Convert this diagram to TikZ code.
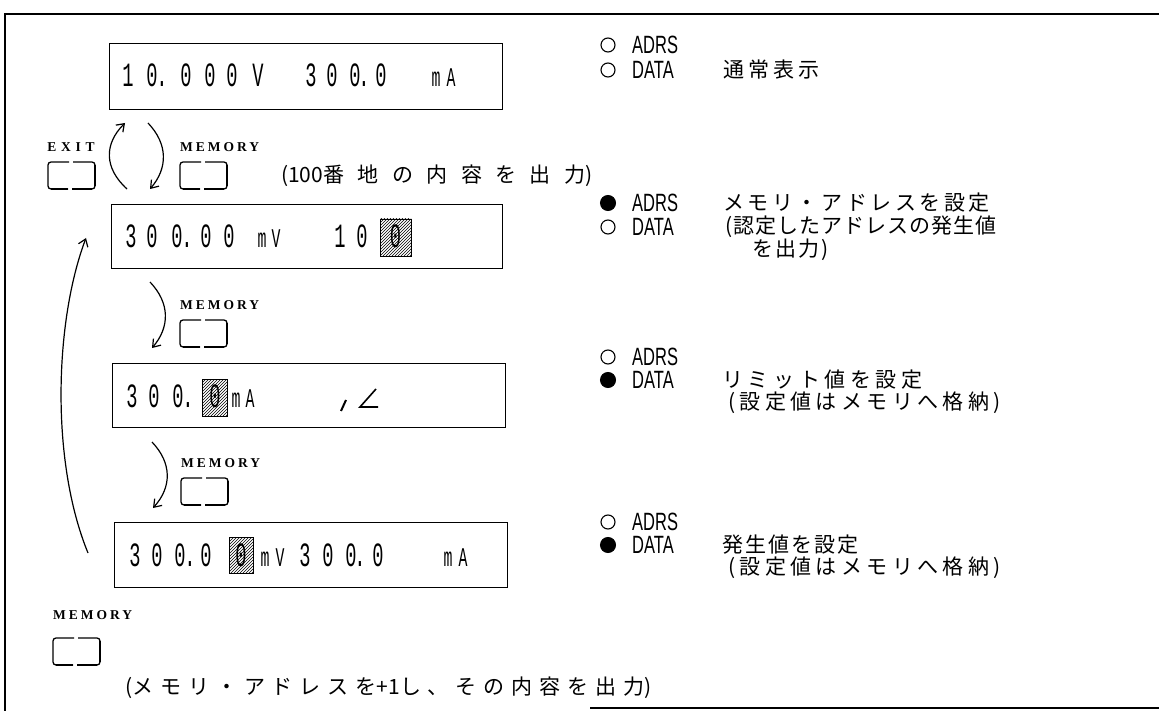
\documentclass[tikz,border=0pt]{standalone}
\usepackage{fontspec}
\usepackage{graphicx}
\usetikzlibrary{arrows.meta,patterns}
\newfontfamily\jp{Noto Sans CJK JP}
\newfontfamily\digf{Liberation Mono}
\newfontfamily\latf{Liberation Sans}
\newfontfamily\lblf{Liberation Serif}
\newcommand\nx[1]{\scalebox{0.55}[1]{#1}}
\newcommand\cnd[1]{\scalebox{0.66}[1]{#1}}
\newcommand\ls[1]{\addfontfeature{LetterSpace=#1}}
\tikzset{
  frameline/.style={line width=1.2pt},
  dbox/.style={draw, line width=1.3pt, inner sep=0, anchor=north west},
  dig/.style={font=\digf\fontsize{34}{34}\selectfont, inner sep=0, anchor=base},
  unit/.style={font=\digf\fontsize{27}{27}\selectfont, inner sep=0, anchor=base},
  hatchcell/.style={draw, line width=0.9pt, pattern=north east lines, inner sep=0},
  led/.style={circle, draw, line width=1.1pt, minimum size=14pt, inner sep=0},
  ledon/.style={circle, draw, fill=black, line width=1pt, minimum size=15pt, inner sep=0},
  ledlbl/.style={font=\latf\fontsize{25}{25}\selectfont, inner sep=0, anchor=west},
  jtx/.style={font=\jp\fontsize{21}{21}\selectfont, inner sep=0, anchor=west},
  keylbl/.style={font=\lblf\bfseries\fontsize{13.5}{13.5}\selectfont, inner sep=0},
  arr/.style={line width=1.2pt, -{Straight Barb[length=7pt,width=10pt]}},
  btnline/.style={line width=1.3pt, rounded corners=3pt},
  pics/keybtn/.style={code={
    \draw[btnline] (21,0) -- (0,0) -- (0,27) -- (20,27);
    \draw[btnline] (25,0) -- (47,0) -- (47,27) -- (24,27);
    \draw[line width=2.4pt] (3,27) -- (20,27) (24,27) -- (44,27) (47,3) -- (47,24);
  }}
}
\begin{document}
\begin{tikzpicture}[x=1pt,y=-1pt]
\useasboundingbox (0,0) rectangle (1159,711);
% frame
\draw[frameline] (1159,14) -- (5,14) -- (5,711);
\draw[frameline] (590,708) -- (1159,708);

% display boxes
\node[dbox, minimum width=393pt, minimum height=66pt] (box1) at (109,43) {};
\node[dbox, minimum width=391pt, minimum height=64pt] (box2) at (111,204) {};
\node[dbox, minimum width=393pt, minimum height=64pt] (box3) at (112,363) {};
\node[dbox, minimum width=393pt, minimum height=65pt] (box4) at (114,522) {};

% box 1 text
\foreach \x/\c [count=\i] in {128/1,152/0,162/.,186/0,210/0,232/0,258/V,311/3,332/0,355/0,364/.,381/0}
  \node[dig] (ba\i) at (\x,87) {\nx{\c}};
\node[unit] (ba-m) at (436,87) {\nx{m}};
\node[unit] (ba-A) at (451,87) {\nx{A}};

% box 2 text
\foreach \x/\c [count=\i] in {131/3,152/0,177/0,187/.,206/0,229/0,340/1,362/0}
  \node[dig] (bb\i) at (\x,248) {\nx{\c}};
\node[unit] (bb-m) at (262,248) {\nx{m}};
\node[unit] (bb-V) at (276,248) {\nx{V}};
\node[hatchcell, minimum width=31pt, minimum height=37pt] (hb) at (395.5,237.5) {};
\node[dig] (hb0) at (395.5,248) {\nx{0}};

% box 3 text
\foreach \x/\c [count=\i] in {132/3,154/0,178/0,188/.}
  \node[dig] (bc\i) at (\x,407) {\nx{\c}};
\node[hatchcell, minimum width=25pt, minimum height=37pt] (hc) at (215,397.5) {};
\node[dig] (hc0) at (215,407) {\nx{0}};
\node[unit] (bc-m) at (236,407) {\nx{m}};
\node[unit] (bc-A) at (250,407) {\nx{A}};
\draw[line width=2pt] (346,400) -- (341,411);
\draw[line width=1.6pt] (376,389) -- (360,407) -- (378,407);

% box 4 text
\foreach \x/\c [count=\i] in {135/3,157/0,180/0,190/.,206/0,305/3,328/0,351/0,360/.,378/0}
  \node[dig] (bd\i) at (\x,566) {\nx{\c}};
\node[hatchcell, minimum width=24pt, minimum height=36pt] (hd) at (241,555) {};
\node[dig] (hd0) at (241,566) {\nx{0}};
\node[unit] (bd-m) at (265,566) {\nx{m}};
\node[unit] (bd-V) at (280,566) {\nx{V}};
\node[unit] (bd-m2) at (448,566) {\nx{m}};
\node[unit] (bd-A) at (463,566) {\nx{A}};

% keys
\node[keylbl] (exitlbl) at (71,147) {\ls{35}EXIT};
\pic (exitkey) at (48,162) {keybtn};
\node[keylbl, anchor=west] (mlbl1) at (180,147) {\ls{22}MEMORY};
\pic (mkey1) at (180,162) {keybtn};
\node[keylbl, anchor=west] (mlbl2) at (180,305) {\ls{22}MEMORY};
\pic (mkey2) at (180,320) {keybtn};
\node[keylbl, anchor=west] (mlbl3) at (181,463) {\ls{22}MEMORY};
\pic (mkey3) at (181,478) {keybtn};
\node[keylbl, anchor=west] (mlbl4) at (53,615) {\ls{22}MEMORY};
\pic (mkey4) at (53,638) {keybtn};

% arrows
\coordinate (a1s) at (127,189); \coordinate (a1e) at (125,123);
\draw[arr] (a1s) .. controls (104,168) and (104,144) .. (a1e);
\coordinate (a2s) at (148,123); \coordinate (a2e) at (150,189);
\draw[arr] (a2s) .. controls (168,144) and (168,168) .. (a2e);
\coordinate (a3s) at (150,282); \coordinate (a3e) at (152,348);
\draw[arr] (a3s) .. controls (170,303) and (170,327) .. (a3e);
\coordinate (a4s) at (152,442); \coordinate (a4e) at (153,508);
\draw[arr] (a4s) .. controls (172,463) and (172,487) .. (a4e);
\coordinate (a5s) at (88,553); \coordinate (a5e) at (86,238);
\draw[arr] (a5s) .. controls (50,460) and (55,320) .. (a5e);

\node[jtx] (note100) at (281,176) {(100{\ls{64}番地の内容を出力})};

% LEDs
\node[led] (l1a) at (608,45) {};   \node[ledlbl] (t1a) at (632,45) {\cnd{ADRS}};
\node[led] (l1d) at (608,70) {};   \node[ledlbl] (t1d) at (632,70) {\cnd{DATA}};
\node[ledon] (l2a) at (608,203) {}; \node[ledlbl] (t2a) at (632,203) {\cnd{ADRS}};
\node[led] (l2d) at (608,227) {};  \node[ledlbl] (t2d) at (632,227) {\cnd{DATA}};
\node[led] (l3a) at (608,357) {};  \node[ledlbl] (t3a) at (632,357) {\cnd{ADRS}};
\node[ledon] (l3d) at (608,380) {}; \node[ledlbl] (t3d) at (632,380) {\cnd{DATA}};
\node[led] (l4a) at (608,522) {};  \node[ledlbl] (t4a) at (632,522) {\cnd{ADRS}};
\node[ledon] (l4d) at (608,545) {}; \node[ledlbl] (t4d) at (632,545) {\cnd{DATA}};

% descriptions
\node[jtx] (d1) at (723,70) {\ls{19}通常表示};
\node[jtx] (d2a) at (723,203) {\ls{17}メモリ・アドレスを設定};
\node[jtx] (d2b) at (725,227) {\ls{5}(認定したアドレスの発生値};
\node[jtx] (d2c) at (752,250) {\ls{10}を出力)};
\node[jtx] (d3a) at (722,380) {\ls{22}リミット値を設定};
\node[jtx] (d3b) at (728,403) {\ls{21}(設定値はメモリへ格納)};
\node[jtx] (d4a) at (722,545) {\ls{10}発生値を設定};
\node[jtx] (d4b) at (728,568) {\ls{21}(設定値はメモリへ格納)};
\node[jtx] (bottomnote) at (125,688) {({\ls{33}メモリ・アドレスを}+1{\ls{33}し、その内容を出力})};
\end{tikzpicture}
\end{document}
